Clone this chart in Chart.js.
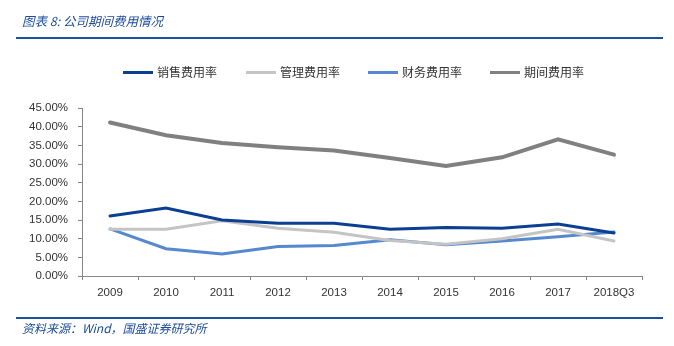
<!DOCTYPE html>
<html>
<head>
<meta charset="utf-8">
<script src="https://cdn.jsdelivr.net/npm/chart.js@4"></script>
<style>
body { margin: 0; background: #fff; }
#wrap { position: relative; width: 674px; height: 346px; overflow: hidden; }
#chart { position: absolute; left: 0; top: 0; }
.title { position: absolute; left: 22px; top: 11px; font: italic 12.5px "Noto Sans CJK SC", sans-serif; color: #1a4b9c; }
.rule { position: absolute; left: 16px; width: 647px; height: 2px; background: #1c4fa0; }
.source { position: absolute; left: 22px; top: 319px; font: italic 12px "Noto Sans CJK SC", sans-serif; color: #1a4b9c; }
</style>
</head>
<body>
<div id="wrap">
<canvas id="chart" width="674" height="346"></canvas>
<div class="title">图表 8:  公司期间费用情况</div>
<div class="rule" style="top:37px"></div>
<div class="rule" style="top:317px"></div>
<div class="source">资料来源：Wind，国盛证券研究所</div>
</div>
<script>
const years = ["2009", "2010", "2011", "2012", "2013", "2014", "2015", "2016", "2017", "2018Q3"];
const salesRate = [16.1, 18.2, 15.0, 14.1, 14.1, 12.5, 13.0, 12.8, 13.9, 11.5];
const adminRate = [12.5, 12.5, 14.8, 12.8, 11.7, 9.5, 8.5, 10.0, 12.5, 9.4];
const financeRate = [12.6, 7.3, 5.9, 7.9, 8.2, 9.7, 8.4, 9.4, 10.5, 11.8];
const periodRate = [41.1, 37.7, 35.6, 34.5, 33.6, 31.6, 29.5, 31.8, 36.6, 32.5];
const seriesNames = ["销售费用率", "管理费用率", "财务费用率", "期间费用率"];

// legend drawn by hand so it lands where the reference has it
const legendPlugin = {
id: "manualLegend",
afterDraw(chart) {
const ctx = chart.ctx;
const xs = [123, 246, 368, 490];
ctx.save();
ctx.font = '12px "Noto Sans CJK SC", sans-serif';
ctx.textBaseline = "middle";
chart.data.datasets.forEach((ds, i) => {
ctx.strokeStyle = ds.borderColor;
ctx.lineWidth = 3;
ctx.beginPath();
ctx.moveTo(xs[i], 72.5);
ctx.lineTo(xs[i] + 30, 72.5);
ctx.stroke();
ctx.fillStyle = "#333";
ctx.fillText(ds.label, xs[i] + 34, 72);
});
ctx.restore();
}
};

const tickFont = { family: "Liberation Sans", size: 11.5 };

new Chart(document.getElementById("chart"), {
type: "line",
data: {
labels: years,
datasets: [
{ label: seriesNames[0], data: salesRate, borderColor: "#0b3f92", borderWidth: 3 },
{ label: seriesNames[1], data: adminRate, borderColor: "#c4c4c4", borderWidth: 3 },
{ label: seriesNames[2], data: financeRate, borderColor: "#5588cf", borderWidth: 3 },
{ label: seriesNames[3], data: periodRate, borderColor: "#808080", borderWidth: 4 }
]
},
options: {
responsive: false,
animation: false,
layout: { padding: { top: 108, left: 0, right: 32, bottom: 0 } },
elements: { point: { radius: 0 }, line: { tension: 0, borderCapStyle: "round" } },
plugins: { legend: { display: false }, tooltip: { enabled: false } },
scales: {
x: {
offset: true,
afterFit: (s) => { s.height = 70; },
grid: { offset: true, drawOnChartArea: false, tickLength: 4, color: "#868686" },
border: { color: "#868686" },
ticks: { font: tickFont, color: "#333", padding: 6, maxRotation: 0 }
},
y: {
min: 0,
max: 45,
afterFit: (s) => { s.width = 82; },
grid: { drawOnChartArea: false, tickLength: 4, color: "#868686" },
border: { color: "#868686" },
ticks: { stepSize: 5, font: tickFont, color: "#333", padding: 10,
callback: (v) => v.toFixed(2) + "%" }
}
}
},
plugins: [legendPlugin]
});
</script>
</body>
</html>
